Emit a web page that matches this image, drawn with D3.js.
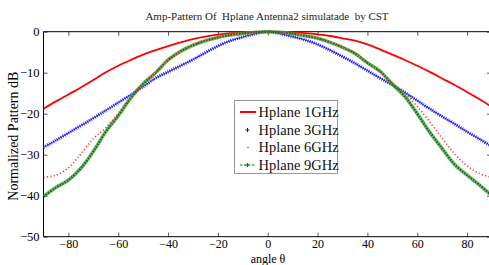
<!DOCTYPE html>
<html>
<head>
<meta charset="utf-8">
<script src="https://cdn.jsdelivr.net/npm/d3@7"></script>
<style>
  body { margin: 0; background: #fff; }
  svg, svg text { font-family: "Liberation Serif", "Times New Roman", serif; }
  svg { display: block; }
</style>
</head>
<body>
<div id="chart"></div>
<script>
// angles in degrees
const angles = [-90,-85,-80,-75,-70,-65,-60,-55,-50,-45,-40,-35,-30,-25,-20,-15,-10,-5,0,
                5,10,15,20,25,30,35,40,45,50,55,60,65,70,75,80,85,90];

// normalized pattern, dB
const hplane1 = [-18.8,-17.0,-15.3,-13.6,-11.8,-9.9,-8.3,-6.9,-5.6,-4.5,-3.5,-2.6,-1.8,-1.2,-0.7,-0.35,-0.15,-0.05,0,
                 -0.05,-0.15,-0.35,-0.65,-1.05,-1.6,-2.2,-3.1,-4.3,-5.6,-6.9,-8.3,-9.8,-11.4,-13.0,-14.7,-16.5,-18.4];
const hplane3 = [-28.2,-26.5,-24.7,-22.9,-21.1,-19.2,-17.3,-15.4,-13.4,-11.3,-9.8,-8.3,-6.8,-5.1,-3.5,-2.2,-1.3,-0.5,0,
                 -0.5,-1.2,-2.0,-3.1,-4.5,-6.1,-7.7,-9.5,-11.3,-13.0,-14.8,-16.8,-18.8,-20.7,-22.5,-24.4,-26.2,-28.0];
const hplane6 = [-35.5,-35.0,-33.2,-29.8,-26.1,-23.4,-19.9,-15.9,-12.6,-9.9,-7.0,-4.9,-3.3,-2.2,-1.4,-0.8,-0.4,-0.1,0,
                 -0.1,-0.45,-0.9,-1.5,-2.5,-3.7,-5.2,-7.4,-9.7,-12.4,-15.0,-18.2,-22.0,-26.0,-29.8,-32.7,-34.6,-35.6];
const hplane9 = [-40.2,-38.0,-36.2,-33.3,-29.2,-24.4,-20.5,-16.2,-12.7,-10.0,-6.9,-4.8,-3.3,-2.2,-1.4,-0.8,-0.45,-0.15,0,
                 -0.15,-0.5,-1.0,-1.6,-2.6,-3.8,-5.3,-7.6,-9.6,-12.8,-15.8,-20.0,-24.5,-28.5,-32.4,-35.0,-37.4,-40.0];

const xTicks = [-80,-60,-40,-20,0,20,40,60,80];
const yTicks = [0,-10,-20,-30,-40,-50];
const legendNames = ["Hplane 1GHz","Hplane 3GHz","Hplane 6GHz","Hplane 9GHz"];

const width = 489, height = 265;
const mLeft = 43.5, mRight = 492, mTop = 31.7, mBottom = 236.7;
const serif = '"Liberation Serif", "Times New Roman", serif';

const svg = d3.select('#chart').append('svg')
  .attr('width', width).attr('height', height)
  .attr('font-family', serif);

const x = d3.scaleLinear().domain([-90, 90]).range([mLeft, mRight]);
const y = d3.scaleLinear().domain([-50, 0]).range([mBottom, mTop]);

svg.append('defs').append('clipPath').attr('id', 'plot')
  .append('rect').attr('x', mLeft).attr('y', mTop - 3)
  .attr('width', mRight - mLeft).attr('height', mBottom - mTop + 3);

// title
svg.append('text')
  .attr('x', 267).attr('y', 20)
  .attr('text-anchor', 'middle')
  .attr('font-size', 11).attr('fill', '#222')
  .style('white-space', 'pre')
  .text('Amp-Pattern Of  Hplane Antenna2 simulatade  by CST');

// axes
const tickStyle = g => {
  g.attr('font-family', serif);
  g.select('.domain').remove();
  g.selectAll('.tick line').attr('stroke', '#555');
  g.selectAll('.tick text').attr('font-size', 12.5).attr('fill', '#000');
};

svg.append('g').attr('transform', `translate(0,${mBottom})`)
  .call(d3.axisBottom(x).tickValues(xTicks).tickSize(-4).tickPadding(3).tickFormat(d3.format('d')))
  .call(tickStyle)
  .call(g => g.selectAll('.tick text').attr('font-size', 12));
svg.append('g').attr('transform', `translate(0,${mTop})`)
  .call(d3.axisTop(x).tickValues(xTicks).tickSize(-4).tickFormat(''))
  .call(tickStyle);
svg.append('g').attr('transform', `translate(${mLeft},0)`)
  .call(d3.axisLeft(y).tickValues(yTicks).tickSize(-4).tickPadding(4).tickFormat(d3.format('d')))
  .call(tickStyle);
svg.append('g').attr('transform', `translate(${mRight},0)`)
  .call(d3.axisRight(y).tickValues(yTicks).tickSize(-5).tickFormat(''))
  .call(tickStyle);

// frame
svg.append('path')
  .attr('d', `M${mRight},${mTop}H${mLeft}V${mBottom}H${mRight}`)
  .attr('fill', 'none').attr('stroke', '#000').attr('stroke-width', 1);

// axis labels
svg.append('text')
  .attr('x', 268).attr('y', 263)
  .attr('text-anchor', 'middle').attr('font-size', 12)
  .text('angle θ');
svg.append('text')
  .attr('transform', `translate(18,${(mTop + mBottom) / 2 + 2}) rotate(-90)`)
  .attr('text-anchor', 'middle').attr('font-size', 14)
  .text('Normalized Pattern dB');

// curves
const line = vals => d3.line()
  .x((d, i) => x(angles[i]))
  .y(d => y(d))
  .curve(d3.curveCatmullRom.alpha(0.5))(vals);

const plot = svg.append('g').attr('clip-path', 'url(#plot)');

plot.append('path').attr('d', line(hplane1))
  .attr('fill', 'none').attr('stroke', '#ff0000').attr('stroke-width', 1.8);

plot.append('path').attr('d', line(hplane3))
  .attr('fill', 'none').attr('stroke', '#3333ff').attr('stroke-width', 1);
plot.append('path').attr('d', line(hplane3))
  .attr('fill', 'none').attr('stroke', '#0000ff').attr('stroke-width', 3.2)
  .attr('stroke-dasharray', '1,1.2').attr('opacity', 0.8);

plot.append('path').attr('d', line(hplane9))
  .attr('fill', 'none').attr('stroke', '#4a9e4a').attr('stroke-width', 3.6).attr('opacity', 0.75);
plot.append('path').attr('d', line(hplane9))
  .attr('fill', 'none').attr('stroke', '#007000').attr('stroke-width', 2)
  .attr('stroke-dasharray', '1.5,1.3');

plot.append('path').attr('d', line(hplane6))
  .attr('fill', 'none').attr('stroke', '#ff3010').attr('stroke-width', 1.5)
  .attr('stroke-dasharray', '1.2,2.2');

// legend
const lg = svg.append('g');
lg.append('rect')
  .attr('x', 234.5).attr('y', 100.5).attr('width', 103).attr('height', 73)
  .attr('fill', '#fff').attr('stroke', '#999').attr('stroke-width', 1);

const rowY = [112, 130, 147.5, 165];
legendNames.forEach((name, i) => {
  lg.append('text')
    .attr('x', 258.5).attr('y', rowY[i] + 4.5)
    .attr('font-size', 14.5).attr('fill', '#111')
    .text(name);
});
lg.append('line').attr('x1', 240).attr('x2', 256).attr('y1', rowY[0]).attr('y2', rowY[0])
  .attr('stroke', '#ff0000').attr('stroke-width', 2);
lg.append('path').attr('d', `M245.5,${rowY[1]}h4M247.5,${rowY[1] - 2}v4`)
  .attr('stroke', '#0000ff').attr('stroke-width', 1);
lg.append('circle').attr('cx', 248).attr('cy', rowY[2]).attr('r', 0.8).attr('fill', '#ff3010');
lg.append('line').attr('x1', 240).attr('x2', 256).attr('y1', rowY[3]).attr('y2', rowY[3])
  .attr('stroke', '#008000').attr('stroke-width', 1).attr('stroke-dasharray', '2.5,1.5');
lg.append('path').attr('d', `M245.5,${rowY[3]}h4M247.5,${rowY[3] - 2}v4`)
  .attr('stroke', '#008000').attr('stroke-width', 1);
</script>
</body>
</html>
